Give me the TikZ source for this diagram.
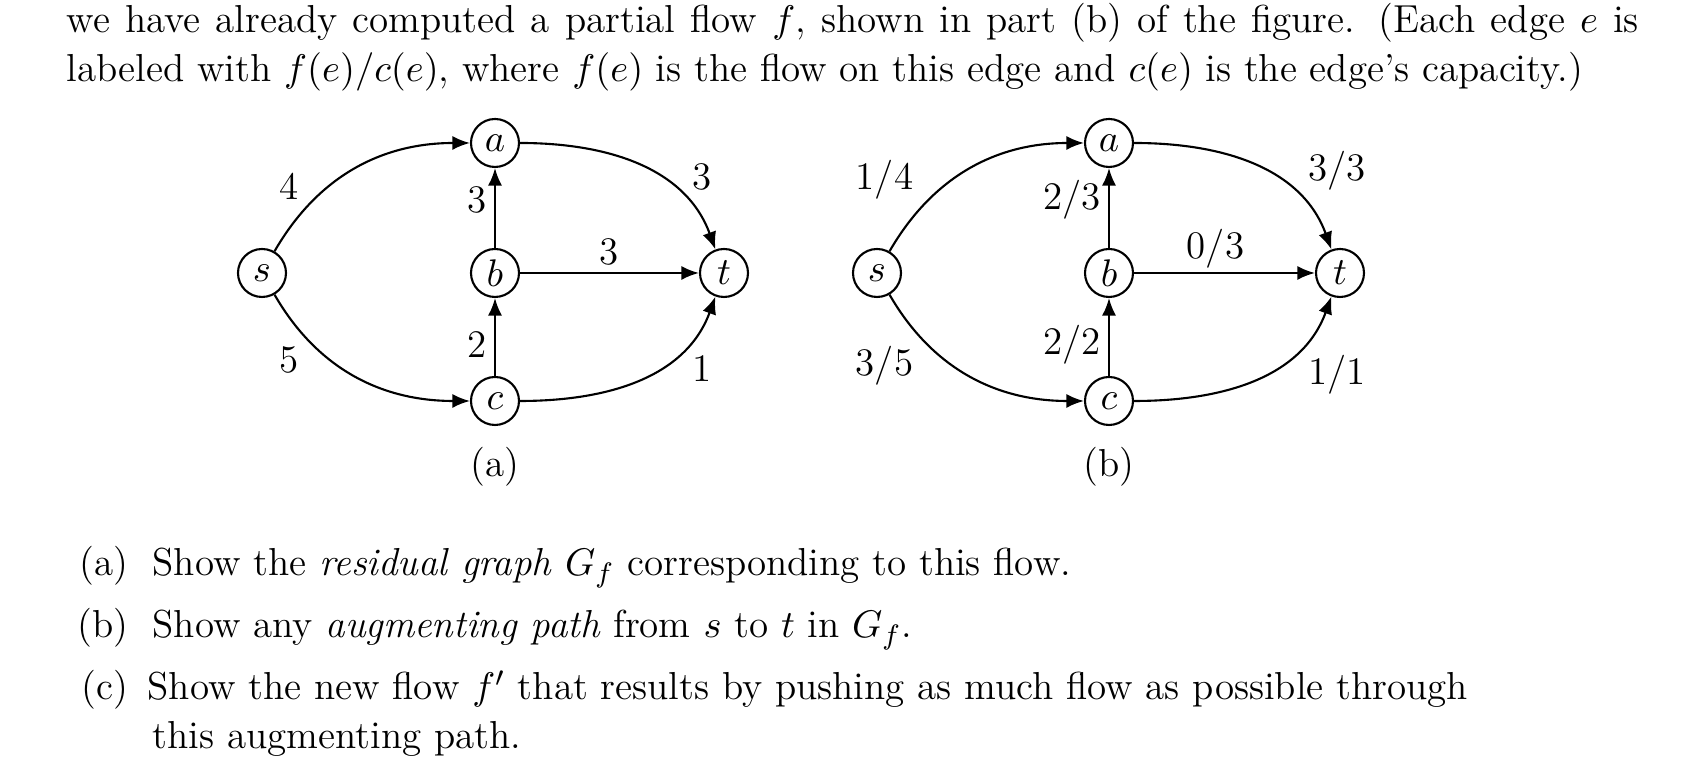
\documentclass[tikz,border=0pt]{standalone}
\usetikzlibrary{arrows.meta}
\begin{document}
\begin{tikzpicture}[x=0.1mm,y=-0.1mm,font=\fontsize{11.1}{13.3}\selectfont,
    vertex/.style={draw,circle,inner sep=0pt,minimum size=4.8mm,line width=0.6pt},
    flow/.style={-{Latex[length=5pt,width=4pt]},line width=0.6pt},
    lbl/.style={inner sep=2pt}]
  \useasboundingbox (0,0) rectangle (1704,780);
  % Text above
  \node[anchor=base west,inner sep=0] (l1) at (66,33)
    {\makebox[15.72cm][s]{we have already computed a partial flow $f$, shown in part (b) of the figure. (Each edge $e$ is}};
  \node[anchor=base west,inner sep=0] (l2) at (66,82)
    {labeled with $f(e)/c(e)$, where $f(e)$ is the flow on this edge and $c(e)$ is the edge's capacity.)};
  % Graph (a)
  \node[vertex] (s1) at (262,273) {$s$};
  \node[vertex] (a1) at (495,143) {$a$};
  \node[vertex] (b1) at (495,273) {$b$};
  \node[vertex] (c1) at (495,401) {$c$};
  \node[vertex] (t1) at (724,273) {$t$};
  \draw[flow] (s1) to[out=60,in=180] node[lbl,pos=0.22,above left] {4} (a1);
  \draw[flow] (s1) to[out=-60,in=180] node[lbl,pos=0.22,below left] {5} (c1);
  \draw[flow] (a1) to[out=0,in=110] node[lbl,pos=0.75,above right] {3} (t1);
  \draw[flow] (c1) to[out=0,in=-110] node[lbl,pos=0.75,below right] {1} (t1);
  \draw[flow] (b1) -- node[lbl,left,pos=0.6] {3} (a1);
  \draw[flow] (c1) -- node[lbl,left,pos=0.4] {2} (b1);
  \draw[flow] (b1) -- node[lbl,above] {3} (t1);
  \node (capa) at (495,467) {(a)};
  % Graph (b)
  \node[vertex] (s2) at (877,273) {$s$};
  \node[vertex] (a2) at (1109,143) {$a$};
  \node[vertex] (b2) at (1109,273) {$b$};
  \node[vertex] (c2) at (1109,401) {$c$};
  \node[vertex] (t2) at (1340,273) {$t$};
  \draw[flow] (s2) to[out=60,in=180] node[lbl,pos=0.22,above left] {1/4} (a2);
  \draw[flow] (s2) to[out=-60,in=180] node[lbl,pos=0.22,below left] {3/5} (c2);
  \draw[flow] (a2) to[out=0,in=110] node[lbl,pos=0.75,above right] {3/3} (t2);
  \draw[flow] (c2) to[out=0,in=-110] node[lbl,pos=0.75,below right] {1/1} (t2);
  \draw[flow] (b2) -- node[lbl,left,pos=0.6] {2/3} (a2);
  \draw[flow] (c2) -- node[lbl,left,pos=0.4] {2/2} (b2);
  \draw[flow] (b2) -- node[lbl,above,pos=0.45,inner sep=1pt] {0/3} (t2);
  \node (capb) at (1109,467) {(b)};
  % Questions
  \node[anchor=base east,inner sep=0] (qa) at (129,576) {(a)};
  \node[anchor=base west,inner sep=0] (ta) at (152,576) {Show the \emph{residual graph} $G_f$ corresponding to this flow.};
  \node[anchor=base east,inner sep=0] (qb) at (129,638) {(b)};
  \node[anchor=base west,inner sep=0] (tb) at (152,638) {Show any \emph{augmenting path} from $s$ to $t$ in $G_f$.};
  \node[anchor=base east,inner sep=0] (qc) at (129,700) {(c)};
  \node[anchor=base west,inner sep=0] (tc) at (147,700) {Show the new flow $f'$ that results by pushing as much flow as possible through};
  \node[anchor=base west,inner sep=0] (tc2) at (152,749) {this augmenting path.};
\end{tikzpicture}
\end{document}
